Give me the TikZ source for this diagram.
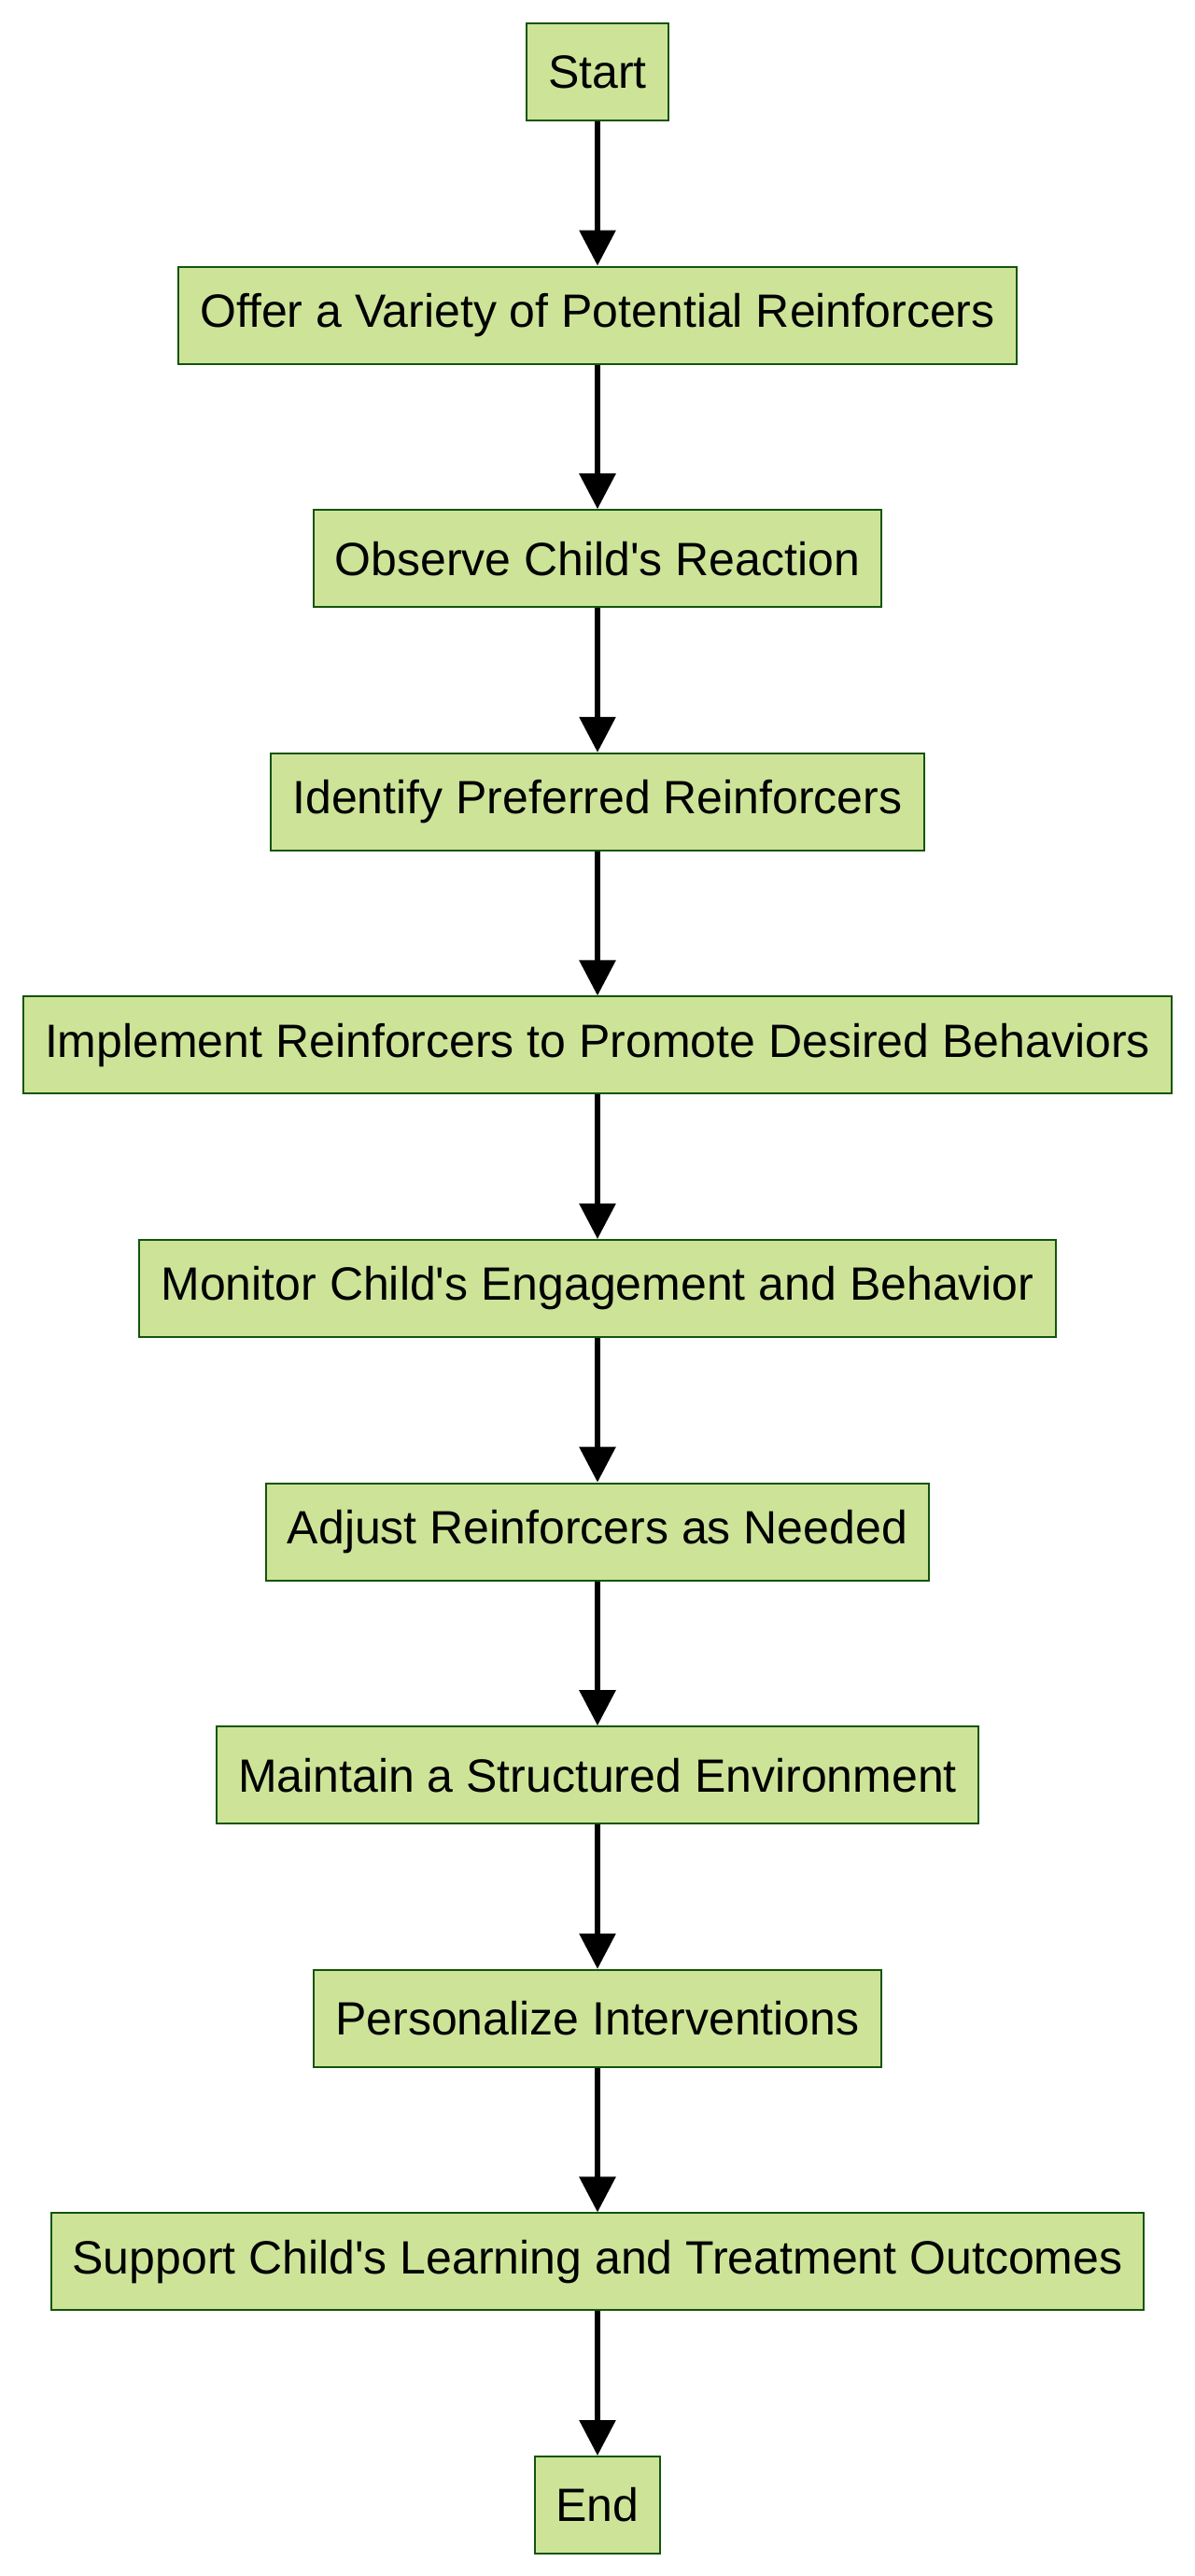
\documentclass[tikz,border=0pt]{standalone}
\usepackage{fontspec}
\setmainfont{Liberation Sans}
\usetikzlibrary{arrows.meta,positioning}
\definecolor{sgreen}{HTML}{CDE498}
\definecolor{dgreen}{HTML}{13540C}
\tikzset{
 box/.style={draw=dgreen,fill=sgreen,line width=1pt,align=center,minimum height=52pt,
   inner xsep=11.5pt,font=\fontsize{25}{30}\selectfont},
 arrow/.style={-{Triangle[length=19pt,width=19pt]},line width=3pt,draw=black}
}
\newcommand{\apos}{\textquotesingle}
\begin{document}
\begin{tikzpicture}[node distance=77.3pt]
 \useasboundingbox (0,0) rectangle (640pt,-1379.5pt);
 \node[box] (start) at (320pt,-38.5pt) {Start};
 \node[box,below=of start] (offer) {Offer a Variety of Potential Reinforcers};
 \node[box,below=of offer] (observe) {Observe Child\apos s Reaction};
 \node[box,below=of observe] (identify) {Identify Preferred Reinforcers};
 \node[box,below=of identify] (implement) {Implement Reinforcers to Promote Desired Behaviors};
 \node[box,below=of implement] (monitor) {Monitor Child\apos s Engagement and Behavior};
 \node[box,below=of monitor] (adjust) {Adjust Reinforcers as Needed};
 \node[box,below=of adjust] (maintain) {Maintain a Structured Environment};
 \node[box,below=of maintain] (personalize) {Personalize Interventions};
 \node[box,below=of personalize] (support) {Support Child\apos s Learning and Treatment Outcomes};
 \node[box,below=of support] (stop) {End};
 \draw[arrow] (start)--(offer);
 \draw[arrow] (offer)--(observe);
 \draw[arrow] (observe)--(identify);
 \draw[arrow] (identify)--(implement);
 \draw[arrow] (implement)--(monitor);
 \draw[arrow] (monitor)--(adjust);
 \draw[arrow] (adjust)--(maintain);
 \draw[arrow] (maintain)--(personalize);
 \draw[arrow] (personalize)--(support);
 \draw[arrow] (support)--(stop);
\end{tikzpicture}
\end{document}
